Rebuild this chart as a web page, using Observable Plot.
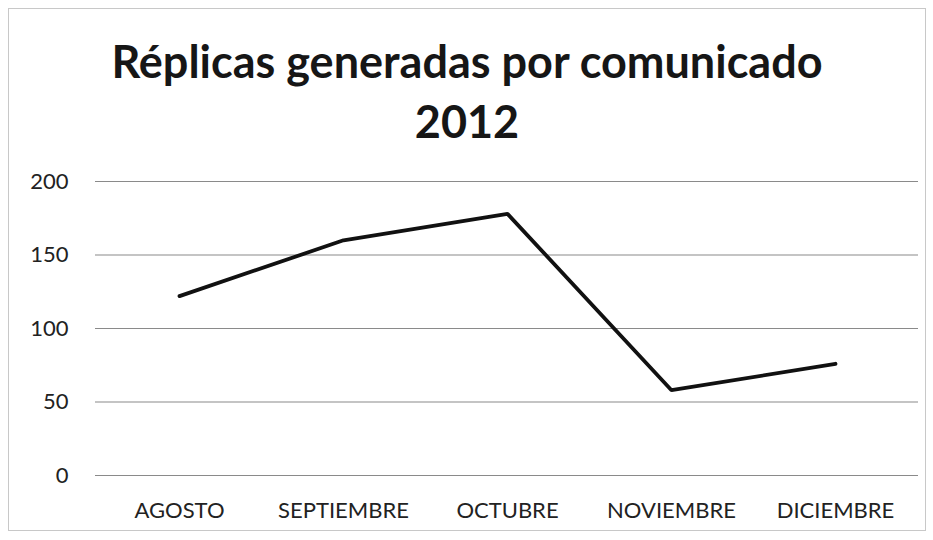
<!DOCTYPE html>
<html><head><meta charset="utf-8">
<script src="https://cdn.jsdelivr.net/npm/d3@7"></script>
<script src="https://cdn.jsdelivr.net/npm/@observablehq/plot@0.6"></script>
<style>
body{margin:0;background:#fff;}
#frame{position:absolute;left:8px;top:8px;width:916px;height:521px;border:1px solid #c8c8c8;background:#fff;}
#title{position:absolute;left:0;top:22px;width:100%;text-align:center;font-family:Lato, "Open Sans", sans-serif;font-weight:bold;font-size:45px;line-height:60px;color:#161616;}
#chart{position:absolute;left:0;top:146px;}
</style></head>
<body>
<div id="frame">
  <div id="title">Réplicas generadas por comunicado<br>2012</div>
  <div id="chart"></div>
</div>
<script>
const months = ["AGOSTO", "SEPTIEMBRE", "OCTUBRE", "NOVIEMBRE", "DICIEMBRE"];
const replicas = [122, 160, 178, 58, 76];
const yTicks = [0, 50, 100, 150, 200];

const data = months.map((m, i) => ({month: m, value: replicas[i]}));

const chart = Plot.plot({
  width: 916,
  height: 375,
  marginLeft: 86,
  marginRight: 7,
  marginTop: 26,
  marginBottom: 55,
  style: {fontFamily: "Lato, 'Open Sans', sans-serif", fontSize: "22px", color: "#222", background: "#fff"},
  x: {type: "point", domain: months, padding: 0.5, label: null},
  y: {domain: [0, 200], label: null},
  marks: [
    Plot.ruleY(yTicks, {stroke: "#8a8a8a", strokeWidth: 1.2}),
    Plot.axisY({ticks: yTicks, tickSize: 0, tickPadding: 27, label: null, fontSize: 22}),
    Plot.axisX({tickSize: 0, tickPadding: 27, label: null, fontSize: 22}),
    Plot.line(data, {x: "month", y: "value", stroke: "#111", strokeWidth: 3.8, strokeLinejoin: "miter"})
  ]
});
document.getElementById("chart").appendChild(chart);
</script>
</body></html>
